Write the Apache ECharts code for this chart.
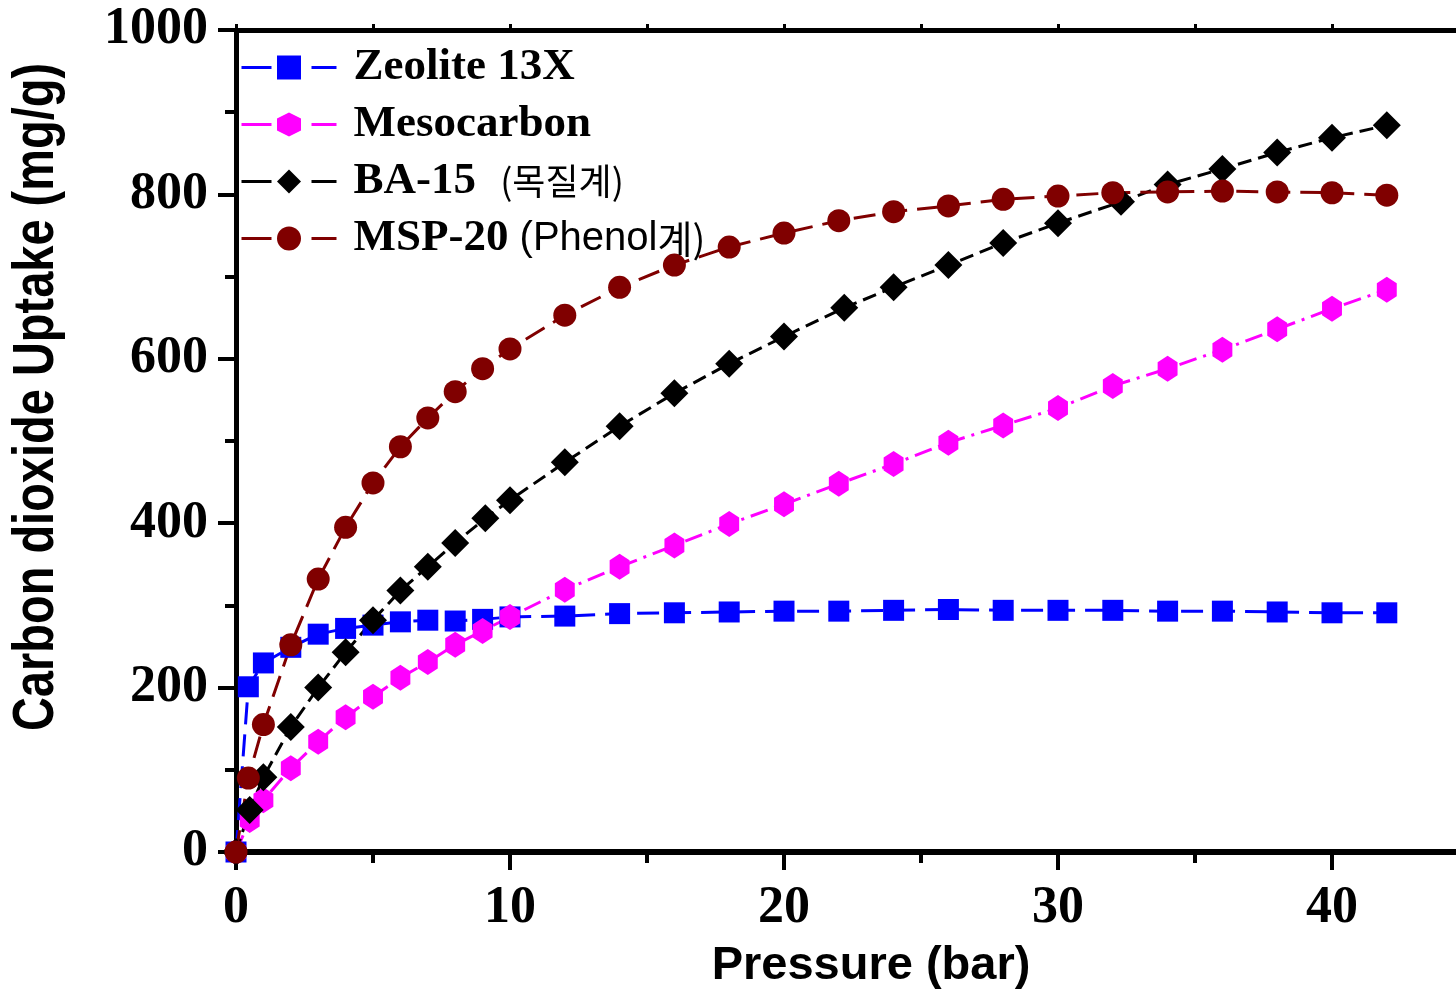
<!DOCTYPE html>
<html>
<head>
<meta charset="utf-8">
<script src="https://cdn.jsdelivr.net/npm/echarts@6/dist/echarts.min.js"></script>
<style>
html,body{margin:0;padding:0;background:#fff;}
#chart{width:1456px;height:990px;}
</style>
</head>
<body>
<div id="chart"></div>
<script>
// ---- data ----
const seriesNames = ['Zeolite 13X', 'Mesocarbon', 'BA-15', 'MSP-20'];

const zeolitePressure = [0, 0.45, 1, 2, 3, 4, 5, 6, 7, 8, 9, 10, 12, 14, 16, 18, 20, 22, 24, 26, 28, 30, 32, 34, 36, 38, 40, 42];
const zeoliteUptake   = [0, 201, 230, 249, 265, 272, 276, 280, 282, 281, 283, 286, 287, 290, 291, 292, 293, 293, 294, 295, 294, 294, 294, 293, 293, 292, 291, 291];

const mesoPressure = [0, 0.5, 1, 2, 3, 4, 5, 6, 7, 8, 9, 10, 12, 14, 16, 18, 20, 22, 24, 26, 28, 30, 32, 34, 36, 38, 40, 42];
const mesoUptake   = [0, 39, 63, 102, 134, 164, 189, 212, 231, 252, 269, 286, 319, 347, 373, 399, 423, 448, 472, 498, 519, 540, 567, 588, 611, 636, 661, 684];

const baPressure = [0, 0.5, 1, 2, 3, 4, 5, 6, 7, 8, 9.1, 10, 12, 14, 16, 18, 20, 22.2, 24, 26, 28, 30, 32.3, 34, 36, 38, 40, 42];
const baUptake   = [0, 51, 91, 152, 200, 243, 282, 318, 347, 376, 406, 428, 474, 518, 558, 594, 627, 662, 687, 714, 741, 765, 791, 812, 831, 851, 869, 884];

const mspPressure = [0, 0.45, 1, 2, 3, 4, 5, 6, 7, 8, 9, 10, 12, 14, 16, 18, 20, 22, 24, 26, 28, 30, 32, 34, 36, 38, 40, 42];
const mspUptake   = [0, 90, 155, 252, 332, 395, 449, 493, 528, 560, 588, 612, 653, 687, 714, 736, 753, 768, 779, 786, 794, 798, 802, 803, 804, 803, 802, 799];

const xTickLabels = ['0', '10', '20', '30', '40'];
const yTickLabels = ['0', '200', '400', '600', '800', '1000'];
const xTitle = 'Pressure (bar)';
const yTitle = 'Carbon dioxide Uptake (mg/g)';

function pairs(xs, ys) { return xs.map((x, i) => [x, ys[i]]); }

const serif = "'Liberation Serif', 'Times New Roman', serif";
const sans = "'Liberation Sans', Arial, sans-serif";
const hexagon = 'path://M0,-1 L0.866,-0.5 L0.866,0.5 L0,1 L-0.866,0.5 L-0.866,-0.5 Z';

const chart = echarts.init(document.getElementById('chart'));

const legendText = {
  'Zeolite 13X': '{b|Zeolite 13X}',
  'Mesocarbon': '{b|Mesocarbon}',
  'BA-15': '{b|BA-15}{k|   (목질계)}',
  'MSP-20': '{b|MSP-20}{p| (Phenol}{k2|계)}'
};

function mk(name, data, color, symbol, size, dash, width) {
  return {
    name: name,
    type: 'line',
    data: data,
    symbol: symbol,
    symbolSize: size,
    symbolKeepAspect: true,
    showSymbol: true,
    clip: true,
    lineStyle: { color: color, width: width || 3, type: dash },
    itemStyle: { color: color, borderWidth: 0 },
    emphasis: { disabled: true },
    z: 3
  };
}

const option = {
  backgroundColor: '#ffffff',
  animation: false,
  grid: { left: 236, top: 30, width: 1370, height: 822, containLabel: false, outerBoundsMode: 'none' },
  legend: {
    orient: 'vertical',
    left: 235,
    top: 40,
    itemWidth: 95,
    itemHeight: 30,
    itemGap: 12,
    lineStyle: { type: [30, 40, 25], width: 3 },
    data: seriesNames,
    formatter: function (n) { return legendText[n]; },
    textStyle: {
      padding: [0, 0, 0, 12],
      rich: {
        b: { fontFamily: serif, fontWeight: 'bold', fontSize: 45, color: '#000' },
        k: { fontFamily: "'Noto Sans CJK KR', sans-serif", fontSize: 36, color: '#000' },
        p: { fontFamily: sans, fontSize: 40, color: '#000' },
        k2: { fontFamily: "'Noto Sans CJK KR', sans-serif", fontSize: 38, color: '#000' }
      }
    }
  },
  graphic: [
    {
      type: 'text',
      x: 37, y: 397,
      rotation: Math.PI / 2,
      scaleX: 0.81,
      silent: true,
      style: {
        text: yTitle,
        font: "bold 58px 'Liberation Sans', Arial, sans-serif",
        fill: '#000',
        align: 'center',
        verticalAlign: 'middle'
      }
    }
  ],
  xAxis: [
    {
      type: 'value', min: 0, max: 50, interval: 10, position: 'bottom',
      name: xTitle, nameLocation: 'middle', nameGap: 91,
      nameTextStyle: { fontFamily: sans, fontWeight: 'bold', fontSize: 47, color: '#000', padding: [0, 100, 0, 0] },
      axisLine: { onZero: false, lineStyle: { color: '#000', width: 6 } },
      axisTick: { show: true, inside: false, length: 18, lineStyle: { width: 4, color: '#000' } },
      minorTick: { show: true, splitNumber: 2, length: 11, lineStyle: { width: 4, color: '#000' } },
      splitLine: { show: false },
      axisLabel: {
        margin: 31, fontFamily: serif, fontWeight: 'bold', fontSize: 52, color: '#000',
        formatter: function (v) { const s = String(v); return xTickLabels.indexOf(s) >= 0 ? s : ''; }
      }
    },
    {
      type: 'value', min: 0, max: 50, interval: 5, position: 'top',
      axisLine: { onZero: false, lineStyle: { color: '#000', width: 5 } },
      axisTick: { show: true, inside: false, length: 6, lineStyle: { width: 3, color: '#000' } },
      axisLabel: { show: false },
      splitLine: { show: false }
    }
  ],
  yAxis: {
    type: 'value', min: 0, max: 1000, interval: 200,
    axisLine: { show: true, onZero: false, lineStyle: { color: '#000', width: 5 } },
    axisTick: { show: true, inside: false, length: 18, lineStyle: { width: 4, color: '#000' } },
    minorTick: { show: true, splitNumber: 2, length: 11, lineStyle: { width: 4, color: '#000' } },
    splitLine: { show: false },
    axisLabel: {
      margin: 28, fontFamily: serif, fontWeight: 'bold', fontSize: 52, color: '#000',
      formatter: function (v) { const s = String(v); return yTickLabels.indexOf(s) >= 0 ? s : ''; }
    }
  },
  series: [
    mk('Zeolite 13X', pairs(zeolitePressure, zeoliteUptake), '#0000ff', 'rect', 21, [22, 10]),
    mk('Mesocarbon', pairs(mesoPressure, mesoUptake), '#ff00ff', hexagon, [23, 26], [18, 7, 3, 7]),
    mk('BA-15', pairs(baPressure, baUptake), '#000000', 'diamond', 28, [14, 7]),
    mk('MSP-20', pairs(mspPressure, mspUptake), '#800000', 'circle', 23, [22, 10])
  ]
};

chart.setOption(option);
</script>
</body>
</html>
